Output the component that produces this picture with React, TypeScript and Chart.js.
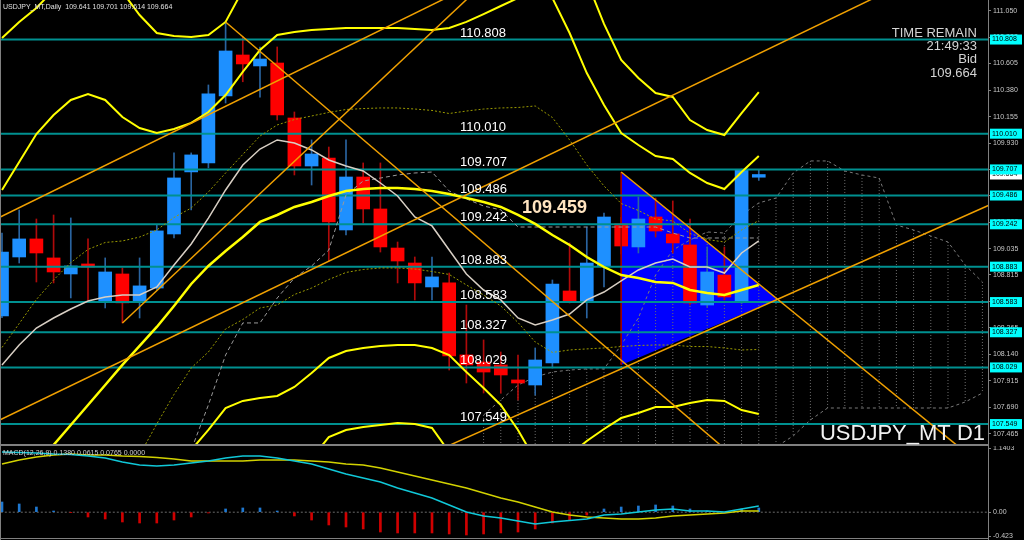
import React, { useEffect, useRef } from "react";
import { Chart, registerables } from "chart.js";

Chart.register(...registerables);

// ---------------- DATA ----------------
const symbolHeader = "USDJPY_MT,Daily  109.641 109.701 109.614 109.664";
const macdHeader = "MACD(12,26,9) 0.1380 0.0615 0.0765 0.0000";
const infoLines = ["TIME REMAIN", "21:49:33", "Bid", "109.664"];
const watermark = "USDJPY_MT D1";
const noteText = "109.459";
const bidPrice = 109.664;

const opens = [108.465, 108.965, 109.118, 108.957, 108.821, 108.906, 108.593, 108.821, 108.584, 108.702, 109.16, 109.686, 109.762, 110.33, 110.677, 110.584, 110.609, 110.143, 109.736, 109.804, 109.194, 109.643, 109.372, 109.041, 108.914, 108.711, 108.745, 108.135, 108.075, 108.05, 107.923, 107.88, 108.067, 108.677, 108.584, 108.889, 109.245, 109.05, 109.304, 109.16, 109.067, 108.558, 108.812, 108.592, 109.641];
const highs = [109.168, 109.363, 109.287, 109.321, 109.296, 109.118, 108.957, 108.872, 108.957, 109.237, 109.847, 109.847, 110.423, 110.957, 110.83, 110.745, 110.745, 110.194, 109.957, 109.897, 109.957, 109.762, 109.762, 109.092, 108.965, 108.965, 108.829, 108.558, 108.262, 108.16, 108.134, 108.194, 108.77, 109.084, 109.219, 109.338, 109.3, 109.473, 109.465, 109.44, 109.287, 109.05, 109.05, 109.71, 109.701];
const lows = [108.45, 108.914, 108.753, 108.745, 108.618, 108.601, 108.533, 108.406, 108.448, 108.69, 109.126, 109.364, 109.72, 110.27, 110.45, 110.32, 110.126, 109.66, 109.575, 108.93, 109.151, 109.253, 109.007, 108.745, 108.601, 108.601, 108.007, 107.897, 107.812, 107.81, 107.753, 107.795, 108.024, 108.575, 108.448, 108.711, 108.99, 108.999, 109.134, 108.999, 108.558, 108.541, 108.601, 108.57, 109.614];
const closes = [109.007, 109.118, 108.999, 108.838, 108.889, 108.88, 108.838, 108.576, 108.72, 109.186, 109.635, 109.83, 110.347, 110.711, 110.601, 110.643, 110.169, 109.736, 109.838, 109.262, 109.643, 109.372, 109.05, 108.931, 108.745, 108.796, 108.126, 108.05, 107.99, 107.965, 107.897, 108.092, 108.736, 108.592, 108.914, 109.304, 109.058, 109.287, 109.185, 109.084, 108.575, 108.838, 108.626, 109.707, 109.664];

// Bollinger-style bands (middle, +-1, +-2, +-3)
const bandMiddle = [106.863, 107.033, 107.202, 107.372, 107.541, 107.711, 107.88, 108.05, 108.211, 108.372, 108.55, 108.736, 108.889, 109.016, 109.134, 109.262, 109.321, 109.389, 109.431, 109.482, 109.524, 109.541, 109.55, 109.55, 109.541, 109.524, 109.499, 109.465, 109.431, 109.389, 109.321, 109.245, 109.151, 109.067, 108.965, 108.88, 108.812, 108.787, 108.753, 108.745, 108.685, 108.66, 108.643, 108.685, 108.728];
const bandUpper2 = [109.533, 109.77, 110.007, 110.168, 110.296, 110.346, 110.296, 110.151, 110.058, 110.016, 110.05, 110.101, 110.194, 110.338, 110.533, 110.719, 110.846, 110.872, 110.889, 110.897, 110.906, 110.906, 110.906, 110.906, 110.897, 110.889, 110.906, 110.957, 111.024, 111.092, 111.16, 111.245, 111.16, 110.863, 110.524, 110.253, 110.016, 109.914, 109.821, 109.796, 109.677, 109.592, 109.541, 109.685, 109.821];
const bandLower2 = [104.193, 104.295, 104.397, 104.575, 104.787, 105.075, 105.465, 105.948, 106.363, 106.728, 107.05, 107.329, 107.499, 107.685, 107.745, 107.77, 107.787, 107.863, 107.982, 108.109, 108.168, 108.194, 108.211, 108.219, 108.219, 108.194, 108.134, 107.99, 107.855, 107.711, 107.499, 107.245, 107.16, 107.287, 107.405, 107.507, 107.6, 107.643, 107.694, 107.694, 107.728, 107.753, 107.745, 107.668, 107.635];
const bandUpper3 = [110.821, 110.957, 111.075, 111.228, 111.397, 111.44, 111.397, 111.211, 111.016, 110.863, 110.838, 110.829, 110.846, 110.957, 111.228, 111.448, 111.609, 111.609, 111.618, 111.601, 111.592, 111.584, 111.584, 111.584, 111.575, 111.575, 111.55, 111.677, 111.796, 111.906, 112.05, 112.245, 112.135, 111.736, 111.304, 110.94, 110.635, 110.482, 110.355, 110.321, 110.126, 110.041, 109.999, 110.185, 110.363];
const bandLower3 = [102.859, 102.927, 102.994, 103.177, 103.41, 103.757, 104.257, 104.897, 105.439, 105.905, 106.299, 106.689, 106.804, 107.033, 107.037, 107.024, 107.02, 107.1, 107.257, 107.439, 107.499, 107.524, 107.541, 107.558, 107.55, 107.516, 107.312, 107.16, 107.067, 106.872, 106.592, 106.245, 106.168, 106.397, 106.626, 106.821, 106.995, 107.071, 107.151, 107.168, 107.245, 107.295, 107.295, 107.16, 107.092];
const bandUpper1 = [108.198, 108.401, 108.605, 108.77, 108.918, 109.029, 109.088, 109.101, 109.134, 109.194, 109.3, 109.38, 109.516, 109.677, 109.834, 109.99, 110.084, 110.13, 110.16, 110.19, 110.215, 110.223, 110.228, 110.228, 110.219, 110.207, 110.181, 110.202, 110.219, 110.228, 110.232, 110.245, 110.147, 109.957, 109.745, 109.567, 109.418, 109.359, 109.287, 109.27, 109.164, 109.113, 109.092, 109.194, 109.274];
const bandLower1 = [105.528, 105.664, 105.799, 105.973, 106.164, 106.393, 106.672, 106.999, 107.287, 107.55, 107.8, 108.024, 108.16, 108.355, 108.435, 108.533, 108.558, 108.647, 108.702, 108.774, 108.834, 108.859, 108.872, 108.872, 108.863, 108.842, 108.817, 108.728, 108.643, 108.55, 108.41, 108.245, 108.156, 108.177, 108.186, 108.194, 108.206, 108.215, 108.219, 108.219, 108.206, 108.206, 108.194, 108.177, 108.181];
const lightMA = [108.05, 108.219, 108.363, 108.448, 108.524, 108.592, 108.626, 108.643, 108.643, 108.711, 108.897, 109.075, 109.295, 109.533, 109.745, 109.88, 109.957, 109.931, 109.872, 109.787, 109.736, 109.694, 109.592, 109.482, 109.304, 109.228, 109.024, 108.821, 108.685, 108.601, 108.448, 108.389, 108.431, 108.482, 108.601, 108.668, 108.762, 108.855, 108.914, 108.948, 108.88, 108.88, 108.829, 108.999, 109.101];
const baseLine = [null, null, null, null, null, null, null, null, null, null, 107.16, 107.329, 107.711, 108.134, 108.406, 108.406, 108.617, 108.787, 108.889, 109.024, 109.49, 109.609, 109.634, 109.66, 109.677, 109.685, 109.524, 109.457, 109.397, 109.364, 109.219, 109.219, 109.219, 109.219, 109.219, 109.219, 109.219, 109.219, 109.219, 109.168, 109.126, 109.126, 109.126, 109.126, 109.126];

// Cloud (starts at bar 28, runs 30 bars)
const cloudStart = 28;
const spanA = [107.626, 107.753, 107.88, 107.948, 107.99, 108.007, 108.016, 108.016, 108.219, 108.448, 108.812, 109.024, 109.109, 109.177, 109.168, 109.321, 109.423, 109.465, 109.677, 109.779, 109.779, 109.694, 109.66, 109.634, 109.236, 109.194, 109.143, 109.092, 108.897, 108.753];
const spanB = [107.1, 107.1, 107.1, 107.1, 107.1, 107.1, 107.1, 107.1, 107.1, 107.1, 107.1, 107.1, 107.1, 107.1, 107.1, 107.1, 107.1, 107.355, 107.448, 107.584, 107.685, 107.685, 107.685, 107.685, 107.685, 107.685, 107.685, 107.685, 107.736, 107.812];

// Horizontal levels
const levelPrices = [110.808, 110.01, 109.707, 109.486, 109.242, 108.883, 108.583, 108.327, 108.029, 107.549];

// Trend lines: [bar1, price1, bar2, price2]
const trendLines = [
  [-1, 109.24, 27, 111.245],
  [-1, 107.522, 52, 111.251],
  [7, 108.406, 28, 111.283],
  [13, 110.957, 45, 106.968],
  [36, 109.685, 58, 107.075],
  [26, 107.368, 58, 109.444],
];

// Triangle: [bar, price]
const triangleTop = [36, 109.685];
const triangleApex = [45.07, 108.605];
const triangleBottom = [36, 108.05];

const priceTicks = [111.05, 110.828, 110.605, 110.38, 110.155, 109.93, 109.705, 109.485, 109.26, 109.035, 108.815, 108.59, 108.365, 108.14, 107.915, 107.69, 107.465];

// MACD panel
const macdMain = [1.07, 1.06, 1.052, 1.034, 1.025, 0.998, 0.963, 0.892, 0.838, 0.82, 0.838, 0.874, 0.909, 0.963, 0.998, 0.998, 0.963, 0.909, 0.856, 0.767, 0.679, 0.607, 0.536, 0.43, 0.341, 0.252, 0.128, 0.004, -0.067, -0.103, -0.156, -0.21, -0.174, -0.147, -0.121, -0.05, -0.032, 0.004, 0.039, 0.057, 0.021, 0.021, 0.004, 0.057, 0.11];
const macdSignal = [0.857, 0.928, 0.981, 1.016, 1.034, 1.016, 1.016, 0.998, 0.989, 0.972, 0.945, 0.909, 0.909, 0.909, 0.909, 0.927, 0.927, 0.927, 0.909, 0.892, 0.856, 0.838, 0.785, 0.714, 0.643, 0.572, 0.501, 0.43, 0.341, 0.252, 0.181, 0.092, 0.004, -0.05, -0.085, -0.103, -0.121, -0.121, -0.103, -0.067, -0.05, -0.032, -0.014, 0.021, 0.021];
const macdHist = [0.181, 0.146, 0.092, 0.021, -0.005, -0.085, -0.121, -0.174, -0.192, -0.192, -0.139, -0.085, -0.014, 0.057, 0.075, 0.075, 0.021, -0.067, -0.139, -0.227, -0.263, -0.298, -0.352, -0.369, -0.369, -0.369, -0.387, -0.405, -0.387, -0.369, -0.352, -0.298, -0.192, -0.139, -0.05, 0.057, 0.092, 0.11, 0.128, 0.11, 0.057, 0.021, -0.014, 0.057, 0.075];
const macdTickValues = [1.1403, 0, -0.423];
const macdTickLabels = ["1.1403", "0.00", "-0.423"];

// ---------------- LAYOUT / STYLE ----------------
const W = 1024;
const MAIN_H = 446;
const MACD_H = 94;
const AXIS_W = 36;
const X_MIN = -0.116;
const X_MAX = 57.326;
const Y_MIN = 107.38;
const Y_MAX = 111.143;
const LEVEL_LABEL_X = 460;
const FONT = '"Liberation Sans", Arial, sans-serif';

const UP = "#1E90FF";
const DOWN = "#FF0000";
const UP_WICK = "#2a64a0";
const DOWN_WICK = "#b00a0a";
const YELLOW = "#FFFF00";
const OLIVE = "#9a9a00";
const ORANGE = "#F0A000";
const TEAL = "#009090";
const GRAY = "#808080";

const pts = (vals: any[], start = 0) => vals.map((v, k) => ({ x: start + k, y: v }));

const lineDs = (data: any[], color: string, width: number, order: number, dash: number[] = []) => ({
  type: "line",
  data,
  borderColor: color,
  borderWidth: width,
  borderDash: dash,
  pointRadius: 0,
  tension: 0,
  fill: false,
  spanGaps: false,
  order,
});

function buildMain(): any {
  const isUp = closes.map((c, i) => c >= opens[i]);
  const hatch: any[] = [];
  spanA.forEach((a, k) => {
    const x = cloudStart + k;
    hatch.push({ x, y: a }, { x, y: spanB[k] }, { x, y: null });
  });

  const datasets: any[] = [
    {
      type: "line",
      data: [{ x: triangleTop[0], y: triangleTop[1] }, { x: triangleApex[0], y: triangleApex[1] }],
      borderWidth: 0,
      pointRadius: 0,
      fill: "+1",
      backgroundColor: "#0000FF",
      order: 300,
    },
    {
      type: "line",
      data: [{ x: triangleBottom[0], y: triangleBottom[1] }, { x: triangleApex[0], y: triangleApex[1] }],
      borderWidth: 0,
      pointRadius: 0,
      fill: false,
      order: 299,
    },
    lineDs(hatch, "#6e6e6e", 1, 250, [1, 2]),
    lineDs(pts(spanA, cloudStart), "#7a7a7a", 1, 249, [3, 3]),
    lineDs(pts(spanB, cloudStart), "#7a7a7a", 1, 248, [3, 3]),
    {
      type: "bar",
      data: opens.map((_, i) => ({ x: i, y: [lows[i], highs[i]] })),
      backgroundColor: isUp.map((u) => (u ? UP_WICK : DOWN_WICK)),
      borderWidth: 0,
      grouped: false,
      barPercentage: 1,
      categoryPercentage: 1,
      barThickness: 1,
      maxBarThickness: 1,
      clip: 0,
      order: 200,
    },
    {
      type: "bar",
      data: opens.map((_, i) => ({ x: i, y: [opens[i], closes[i]] })),
      backgroundColor: isUp.map((u) => (u ? UP : DOWN)),
      borderWidth: 0,
      grouped: false,
      barPercentage: 1,
      categoryPercentage: 1,
      barThickness: 13,
      maxBarThickness: 13,
      minBarLength: 1,
      clip: 0,
      order: 190,
    },
    lineDs([{ x: triangleTop[0], y: triangleTop[1] }, { x: triangleBottom[0], y: triangleBottom[1] }], "#a00000", 1, 185),
  ];

  levelPrices.forEach((p) => {
    datasets.push(lineDs([{ x: -1, y: p }, { x: 60, y: p }], TEAL, 2, 120));
  });

  datasets.push(lineDs(pts(baseLine), "#9a9a9a", 1, 100, [4, 3]));
  datasets.push(lineDs(pts(bandUpper1), OLIVE, 1, 95, [2, 2]));
  datasets.push(lineDs(pts(bandLower1), OLIVE, 1, 95, [2, 2]));
  datasets.push(lineDs(pts(lightMA), "#d8cfc4", 1.5, 90));
  datasets.push(lineDs(pts(bandUpper3), YELLOW, 2, 85));
  datasets.push(lineDs(pts(bandLower3), YELLOW, 2, 85));
  datasets.push(lineDs(pts(bandUpper2), YELLOW, 2, 84));
  datasets.push(lineDs(pts(bandLower2), YELLOW, 2, 84));
  datasets.push(lineDs(pts(bandMiddle), YELLOW, 2.5, 83));

  trendLines.forEach((t) => {
    datasets.push(lineDs([{ x: t[0], y: t[1] }, { x: t[2], y: t[3] }], ORANGE, 1.5, 70));
  });

  const overlay = {
    id: "mainOverlay",
    afterDraw(chart: any) {
      const ctx = chart.ctx;
      const ys = chart.scales.y;
      const area = chart.chartArea;
      ctx.save();
      ctx.strokeStyle = GRAY;
      ctx.lineWidth = 2;
      ctx.beginPath();
      ctx.moveTo(0, area.bottom + 1);
      ctx.lineTo(area.right, area.bottom + 1);
      ctx.stroke();
      ctx.lineWidth = 1;
      ctx.beginPath();
      ctx.moveTo(0.5, 0);
      ctx.lineTo(0.5, area.bottom);
      ctx.moveTo(area.right + 0.5, 0);
      ctx.lineTo(area.right + 0.5, MAIN_H);
      ctx.stroke();

      ctx.textAlign = "left";
      ctx.textBaseline = "alphabetic";
      ctx.font = `13px ${FONT}`;
      ctx.fillStyle = "#ffffff";
      levelPrices.forEach((p) => {
        ctx.fillText(p.toFixed(3), LEVEL_LABEL_X, ys.getPixelForValue(p) - 3);
      });

      ctx.font = `bold 18px ${FONT}`;
      ctx.fillStyle = "#ffe4c0";
      ctx.fillText(noteText, 522, 213);

      ctx.font = `7px ${FONT}`;
      ctx.fillStyle = "#e0e0e0";
      ctx.fillText(symbolHeader, 3, 9);

      ctx.textAlign = "right";
      ctx.font = `13px ${FONT}`;
      ctx.fillStyle = "#d4d4d4";
      const bases = [37, 50, 63, 77];
      infoLines.forEach((t, i) => ctx.fillText(t, 977, bases[i]));

      ctx.font = `22px ${FONT}`;
      ctx.fillStyle = "#f2f2f2";
      ctx.fillText(watermark, 985, 440);

      ctx.textAlign = "left";
      ctx.textBaseline = "middle";
      ctx.font = `7px ${FONT}`;
      const by = ys.getPixelForValue(bidPrice);
      ctx.fillStyle = "#ffffff";
      ctx.fillRect(area.right + 2, by - 5, 32, 10);
      ctx.fillStyle = "#000000";
      ctx.fillText(bidPrice.toFixed(3), area.right + 4, by);
      levelPrices.forEach((p) => {
        const y = ys.getPixelForValue(p);
        ctx.fillStyle = "#00ffff";
        ctx.fillRect(area.right + 2, y - 5, 32, 10);
        ctx.fillStyle = "#000000";
        ctx.fillText(p.toFixed(3), area.right + 4, y);
      });
      ctx.restore();
    },
  };

  return {
    type: "line",
    data: { datasets },
    plugins: [overlay],
    options: {
      responsive: false,
      animation: false,
      events: [],
      layout: { padding: { left: 0, right: 0, top: 0, bottom: 2 } },
      plugins: { legend: { display: false }, tooltip: { enabled: false } },
      scales: {
        x: { type: "linear", min: X_MIN, max: X_MAX, display: false, offset: false },
        y: {
          type: "linear",
          position: "right",
          min: Y_MIN,
          max: Y_MAX,
          afterFit: (s: any) => {
            s.width = AXIS_W;
            s.paddingTop = 0;
            s.paddingBottom = 0;
          },
          afterBuildTicks: (s: any) => {
            s.ticks = priceTicks.map((v) => ({ value: v }));
          },
          ticks: {
            autoSkip: false,
            color: "#c8c8c8",
            font: { size: 7, family: FONT },
            padding: 2,
            callback: (v: any) => Number(v).toFixed(3),
          },
          grid: { drawOnChartArea: false, drawTicks: true, tickLength: 3, color: GRAY },
          border: { display: true, color: GRAY },
        },
      },
    },
  };
}

function buildMacd(): any {
  const datasets: any[] = [
    lineDs([{ x: -1, y: 0 }, { x: 60, y: 0 }], "#6a6a6a", 1, 50, [2, 2]),
    {
      type: "bar",
      data: pts(macdHist),
      backgroundColor: macdHist.map((v) => (v >= 0 ? "#1f78d0" : "#d00000")),
      borderWidth: 0,
      grouped: false,
      barPercentage: 1,
      categoryPercentage: 1,
      barThickness: 2,
      maxBarThickness: 2,
      clip: 0,
      order: 40,
    },
    lineDs(pts(macdSignal), "#d2d200", 1.5, 30),
    lineDs(pts(macdMain), "#10c8d8", 1.5, 20),
  ];
  const overlay = {
    id: "macdOverlay",
    afterDraw(chart: any) {
      const ctx = chart.ctx;
      const area = chart.chartArea;
      ctx.save();
      ctx.strokeStyle = GRAY;
      ctx.lineWidth = 1;
      ctx.beginPath();
      ctx.moveTo(area.right + 0.5, 0);
      ctx.lineTo(area.right + 0.5, MACD_H);
      ctx.moveTo(0.5, 0);
      ctx.lineTo(0.5, MACD_H);
      ctx.moveTo(0, MACD_H - 1.5);
      ctx.lineTo(area.right, MACD_H - 1.5);
      ctx.stroke();
      ctx.font = `7px ${FONT}`;
      ctx.fillStyle = "#d0d0d0";
      ctx.textAlign = "left";
      ctx.textBaseline = "alphabetic";
      ctx.fillText(macdHeader, 3, 9);
      ctx.restore();
    },
  };
  return {
    type: "line",
    data: { datasets },
    plugins: [overlay],
    options: {
      responsive: false,
      animation: false,
      events: [],
      layout: { padding: { left: 0, right: 0, top: 2, bottom: 4 } },
      plugins: { legend: { display: false }, tooltip: { enabled: false } },
      scales: {
        x: { type: "linear", min: X_MIN, max: X_MAX, display: false, offset: false },
        y: {
          type: "linear",
          position: "right",
          min: macdTickValues[2],
          max: macdTickValues[0],
          afterFit: (s: any) => {
            s.width = AXIS_W;
            s.paddingTop = 0;
            s.paddingBottom = 0;
          },
          afterBuildTicks: (s: any) => {
            s.ticks = macdTickValues.map((v) => ({ value: v }));
          },
          ticks: {
            autoSkip: false,
            color: "#c8c8c8",
            font: { size: 7, family: FONT },
            padding: 2,
            callback: (_v: any, i: number) => macdTickLabels[i],
          },
          grid: { drawOnChartArea: false, drawTicks: true, tickLength: 3, color: GRAY },
          border: { display: true, color: GRAY },
        },
      },
    },
  };
}

export default function App() {
  const mainRef = useRef<HTMLCanvasElement | null>(null);
  const macdRef = useRef<HTMLCanvasElement | null>(null);

  useEffect(() => {
    const main = new Chart(mainRef.current as any, buildMain());
    const macd = new Chart(macdRef.current as any, buildMacd());
    return () => {
      main.destroy();
      macd.destroy();
    };
  }, []);

  return (
    <div style={{ position: "fixed", left: 0, top: 0, width: W, height: MAIN_H + MACD_H, background: "#000", overflow: "hidden" }}>
      <canvas ref={mainRef} width={W} height={MAIN_H} style={{ position: "absolute", left: 0, top: 0, width: W, height: MAIN_H }} />
      <canvas ref={macdRef} width={W} height={MACD_H} style={{ position: "absolute", left: 0, top: MAIN_H, width: W, height: MACD_H }} />
    </div>
  );
}
